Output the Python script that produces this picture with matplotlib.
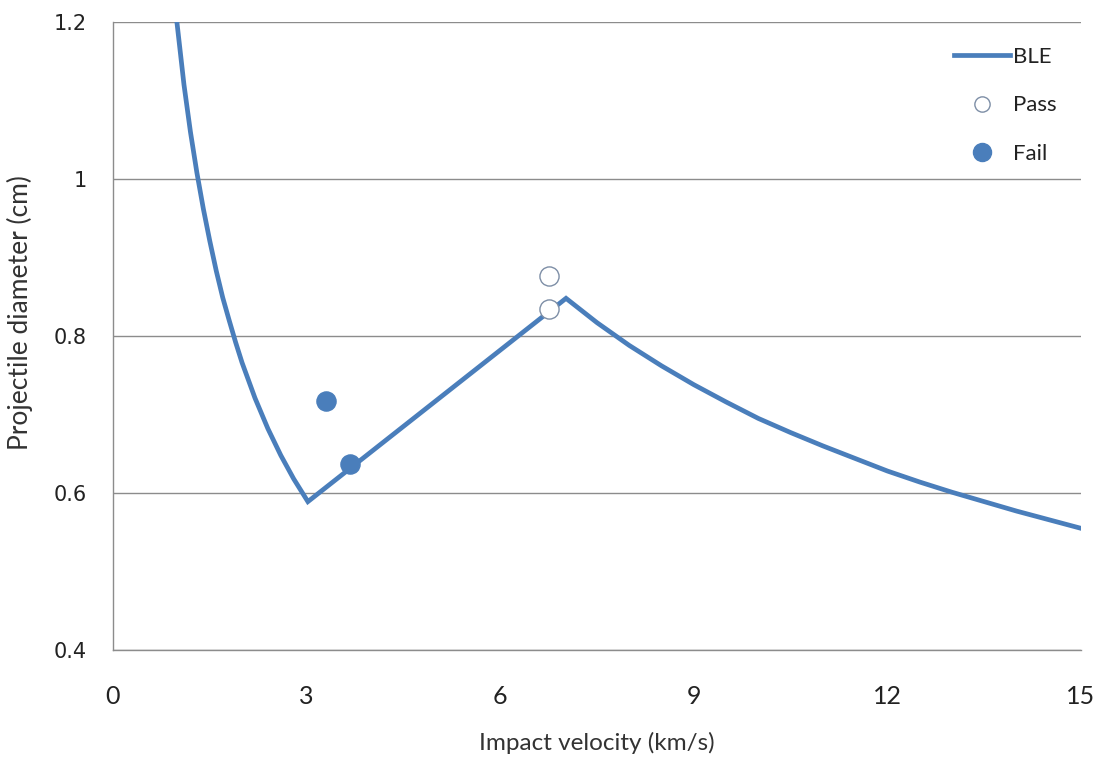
import matplotlib
matplotlib.use('Agg')
import matplotlib.pyplot as plt
from matplotlib.lines import Line2D

# BLE curve (km/s, cm)
ble_v = [0.99, 1.1, 1.2, 1.3, 1.4, 1.5, 1.6, 1.7, 1.8, 1.9, 2.0, 2.2, 2.4, 2.6, 2.8, 3.02,
         7.02, 7.5, 8.0, 8.5, 9.0, 9.5, 10.0, 10.5, 11.0, 11.5, 12.0, 12.5, 13.0, 13.5,
         14.0, 14.5, 15.0]
ble_d = [1.20, 1.12, 1.06, 1.008, 0.962, 0.921, 0.883, 0.849, 0.82, 0.792, 0.766, 0.721,
         0.682, 0.648, 0.618, 0.589,
         0.848, 0.817, 0.788, 0.762, 0.738, 0.716, 0.695, 0.677, 0.66, 0.644, 0.628,
         0.614, 0.601, 0.589, 0.577, 0.566, 0.555]

# test shots
pass_v = [6.76, 6.75]
pass_d = [0.877, 0.834]
fail_v = [3.30, 3.67]
fail_d = [0.717, 0.637]

x_ticks = [0, 3, 6, 9, 12, 15]
y_ticks = [0.4, 0.6, 0.8, 1.0, 1.2]
y_labels = ['0.4', '0.6', '0.8', '1', '1.2']

blue = '#4a7ebb'
grid_c = '#8c8c8c'
narrow = ['Lato', 'DejaVu Sans']

W, H = 1099, 759
fig = plt.figure(figsize=(W / 100, H / 100), dpi=100)
ax = fig.add_axes([113 / W, 1 - 650 / H, (1081 - 113) / W, (650 - 22) / H])

ax.plot(ble_v, ble_d, color=blue, lw=3.4, solid_joinstyle='miter', zorder=3)
ax.scatter(pass_v, pass_d, s=190, facecolor='white', edgecolor='#7d8ea6',
           linewidth=1.0, zorder=4)
ax.scatter(fail_v, fail_d, s=190, facecolor=blue, edgecolor=blue, zorder=4)

ax.set_xlim(0, 15)
ax.set_ylim(0.4, 1.2)
ax.set_xticks(x_ticks)
ax.set_yticks(y_ticks)
ax.set_yticklabels(y_labels, family='DejaVu Sans')
ax.grid(axis='y', color=grid_c, lw=1.0)
ax.set_axisbelow(True)
for s in ['top', 'right']:
    ax.spines[s].set_visible(False)
for s in ['left', 'bottom']:
    ax.spines[s].set_color(grid_c)
    ax.spines[s].set_linewidth(1.0)
ax.tick_params(length=0)
ax.tick_params(axis='y', pad=19, labelsize=15, labelcolor='#222222')
ax.tick_params(axis='x', pad=25, labelsize=18, labelcolor='#222222')
for t in ax.get_xticklabels():
    t.set_family(narrow)

fig.text(597 / W, 1 - 743 / H, 'Impact velocity (km/s)', ha='center', va='center',
         fontsize=17.5, family=narrow, color='#333333')
fig.text(20 / W, 1 - 313 / H, 'Projectile diameter (cm)', ha='center', va='center',
         rotation=90, fontsize=19, family=narrow, color='#333333')

handles = [
    Line2D([], [], color=blue, lw=3.4),
    Line2D([], [], ls='none', marker='o', ms=11, mfc='white', mec='#7d8ea6', mew=1.0),
    Line2D([], [], ls='none', marker='o', ms=13, mfc=blue, mec=blue),
]
leg = ax.legend(handles, ['BLE', 'Pass', 'Fail'], loc='upper left',
                bbox_to_anchor=((934 - 113) / (1081 - 113), 1 - 5 / 628),
                frameon=False, handlelength=2.5, handletextpad=0.15,
                labelspacing=1.28, prop={'family': narrow, 'size': 16})
for t in leg.get_texts():
    t.set_color('#222222')

fig.savefig('out.png', dpi=100)
